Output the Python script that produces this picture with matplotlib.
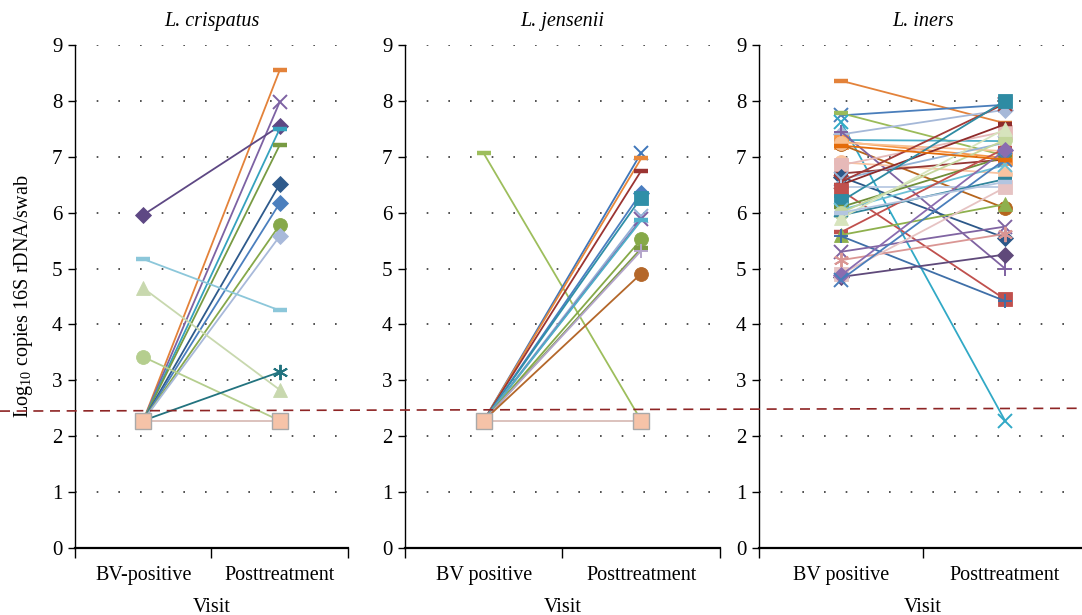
"""Log10 copies of 16S rDNA per swab for three Lactobacillus species, BV-positive vs posttreatment."""

import matplotlib
matplotlib.use("Agg")
import matplotlib.pyplot as plt
from matplotlib.lines import Line2D

plt.rcParams["font.family"] = ["Liberation Serif", "DejaVu Serif"]
plt.rcParams["mathtext.fontset"] = "custom"
plt.rcParams["mathtext.rm"] = "Liberation Serif"

BASE = 2.28          # below detection limit value
THRESHOLD = (2.45, 2.50)  # dashed detection line, left and right end

TITLES = ["L. crispatus", "L. jensenii", "L. iners"]
VISIT_LABELS = [["BV-positive", "Posttreatment"],
                ["BV positive", "Posttreatment"],
                ["BV positive", "Posttreatment"]]

# L. crispatus
crisp_bv = [BASE, BASE, 5.96, BASE, BASE, BASE, BASE, BASE, BASE, 5.17, 4.65, 3.42, BASE, BASE]
crisp_post = [8.55, 7.98, 7.55, 7.50, 7.21, 6.51, 6.17, 5.78, 5.58, 4.25, 2.83, BASE, 3.15, BASE]
crisp_col = ["#E3823A", "#7D62A3", "#5E4884", "#35A2BE", "#789B43", "#2E5A8C", "#4B7FBE",
             "#86A84A", "#A8B9DA", "#8CC7DA", "#C8D8AE", "#B5CE8E", "#22737F", "#D9BDB8"]
crisp_mk = ["_", "x", "D", "_", "_", "D", "D", "o", "D", "_", "^", "o", "*6", "s"]

# L. jensenii
jens_bv = [7.06, BASE, BASE, BASE, BASE, BASE, BASE, BASE, BASE, BASE, BASE, BASE, BASE, BASE]
jens_post = [BASE, 7.07, 6.97, 6.75, 6.36, 6.27, 5.94, 5.88, 5.86, 5.52, 5.36, 5.32, 4.91, BASE]
jens_col = ["#9DBE5C", "#3E76BA", "#E8883A", "#9B3432", "#4A7EC0", "#2F8FA8", "#93B0D8",
            "#7E5FA3", "#4FB0CA", "#86A948", "#7D9A44", "#B4A5CB", "#B4672A", "#D9BDB8"]
jens_mk = ["_", "x", "_", "_", "D", "s", "x", "x", "_", "o", "_", "+", "o", "s"]

# L. iners
iners_bv = [8.36, 7.74, 7.78, 7.62, 7.40, 7.30, 7.27, 7.22, 7.45, 7.25, 6.90, 6.85,
            6.70, 6.64, 6.60, 6.55, 6.50, 6.45, 6.40, 6.20, 6.10, 6.05, 6.00, 5.95,
            5.90, 5.65, 5.60, 5.58, 5.30, 5.15, 4.85, 4.90, 4.88, 4.80, 7.20, 6.00]
iners_post = [7.60, 7.93, 7.02, BASE, 7.84, 7.28, 6.98, 6.08, 5.00, 7.10, 6.70, 7.45,
              6.95, 5.55, 7.25, 7.95, 7.58, 6.45, 4.45, 8.00, 7.00, 6.85, 7.30, 6.60,
              7.50, 7.15, 6.15, 4.42, 5.75, 5.62, 5.25, 6.45, 7.12, 6.95, 6.95, 6.55]
iners_col = ["#E3823A", "#4A7EBB", "#9BBB59", "#31A9C6", "#A5B8D8", "#4BACC6", "#F79646",
             "#B5651D", "#7F62A1", "#FAC090", "#F9C3A0", "#E6B9B8", "#943634", "#2C5889",
             "#95B3D7", "#A23B38", "#8E2B2A", "#B9C9E3", "#C0504D", "#2E8BA3", "#6F8E3A",
             "#6CC0D6", "#C3D69B", "#31859C", "#D7E4BD", "#C0504D", "#8EB04D", "#3F6FA8",
             "#8064A2", "#DA9694", "#5F497A", "#E6C3C3", "#8A6CB0", "#4A7EBB", "#E46C0A",
             "#B3C5E0"]
iners_mk = ["_", "x", "_", "x", "D", "_", "s", "o", "+", "o", "o", "s",
            "_", "D", "x", "x", "_", "+", "s", "s", "_", "x", "o", "_",
            "^", "_", "^", "+", "x", "*6", "D", "s", "D", "x", "_", "_"]

PANELS = [(crisp_bv, crisp_post, crisp_col, crisp_mk),
          (jens_bv, jens_post, jens_col, jens_mk),
          (iners_bv, iners_post, iners_col, iners_mk)]

# axes rectangles in figure fractions
RECTS = [(0.0693, 0.1089, 0.2523, 0.818),
         (0.3743, 0.1089, 0.2911, 0.818),
         (0.7015, 0.1089, 0.3031, 0.818)]

MARKER_STYLE = {
    "_": dict(marker="_", ms=10, mew=3.2),
    "x": dict(marker="x", ms=9.5, mew=1.4),
    "+": dict(marker="+", ms=10, mew=1.4),
    "*6": dict(marker=(6, 2, 0), ms=11, mew=1.4),
    "D": dict(marker="D", ms=8, mew=0.6),
    "o": dict(marker="o", ms=10, mew=0.6),
    "s": dict(marker="s", ms=10, mew=0.6),
    "^": dict(marker="^", ms=10.5, mew=0.6),
}


def draw_panel(ax, bv, post, colors, markers):
    for b, p, c, m in zip(bv, post, colors, markers):
        style = MARKER_STYLE[m]
        flat = m == "s" and b == BASE and p == BASE
        face = "#F6C3A8" if flat else c
        edge = "#A9A9A9" if flat else c
        ax.plot([1, 2], [b, p], color=c, lw=1.3, marker=style["marker"],
                ms=12 if flat else style["ms"], mew=1.0 if flat else style["mew"],
                mfc=face, mec=edge, solid_capstyle="butt", zorder=3)


fig = plt.figure(figsize=(10.82, 6.15), dpi=100)
axes = []
for i, rect in enumerate(RECTS):
    ax = fig.add_axes(rect)
    draw_panel(ax, *PANELS[i])
    ax.set_xlim(0.5, 2.5)
    ax.set_ylim(0, 9)
    ax.set_yticks(range(10))
    ax.set_xticks([1, 2])
    ax.set_xticklabels(VISIT_LABELS[i])
    ax.set_xticks([0.5, 1.5, 2.5], minor=True)
    ax.tick_params(axis="x", which="major", length=0, pad=13, labelsize=14.5)
    ax.tick_params(axis="x", which="minor", length=7, width=1, direction="out")
    ax.tick_params(axis="y", length=5, width=1, direction="out", labelsize=15, pad=4)
    for s in ("top", "right"):
        ax.spines[s].set_visible(False)
    ax.spines["left"].set_linewidth(1.0)
    ax.spines["bottom"].set_linewidth(1.6)
    ax.yaxis.grid(True, linestyle=(0, (1, 12)), color="#333333", lw=1.2)
    ax.set_axisbelow(True)
    ax.set_xlabel("Visit", fontsize=14.5, labelpad=9)
    ax.set_title(TITLES[i], fontsize=14.5, style="italic", pad=14)
    axes.append(ax)

axes[0].set_ylabel(r"Log$_{\mathregular{10}}$ copies 16S rDNA/swab", fontsize=14.5, labelpad=12)

# dashed detection-limit line across the whole figure
to_fig = axes[0].transData + fig.transFigure.inverted()
y_left = to_fig.transform((1, THRESHOLD[0]))[1]
y_right = to_fig.transform((1, THRESHOLD[1]))[1]
fig.add_artist(Line2D([0, 1], [y_left, y_right], color="#8E2525", lw=1.2,
                      linestyle=(0, (6, 4)), zorder=10))

fig.savefig("out.png", dpi=100)
